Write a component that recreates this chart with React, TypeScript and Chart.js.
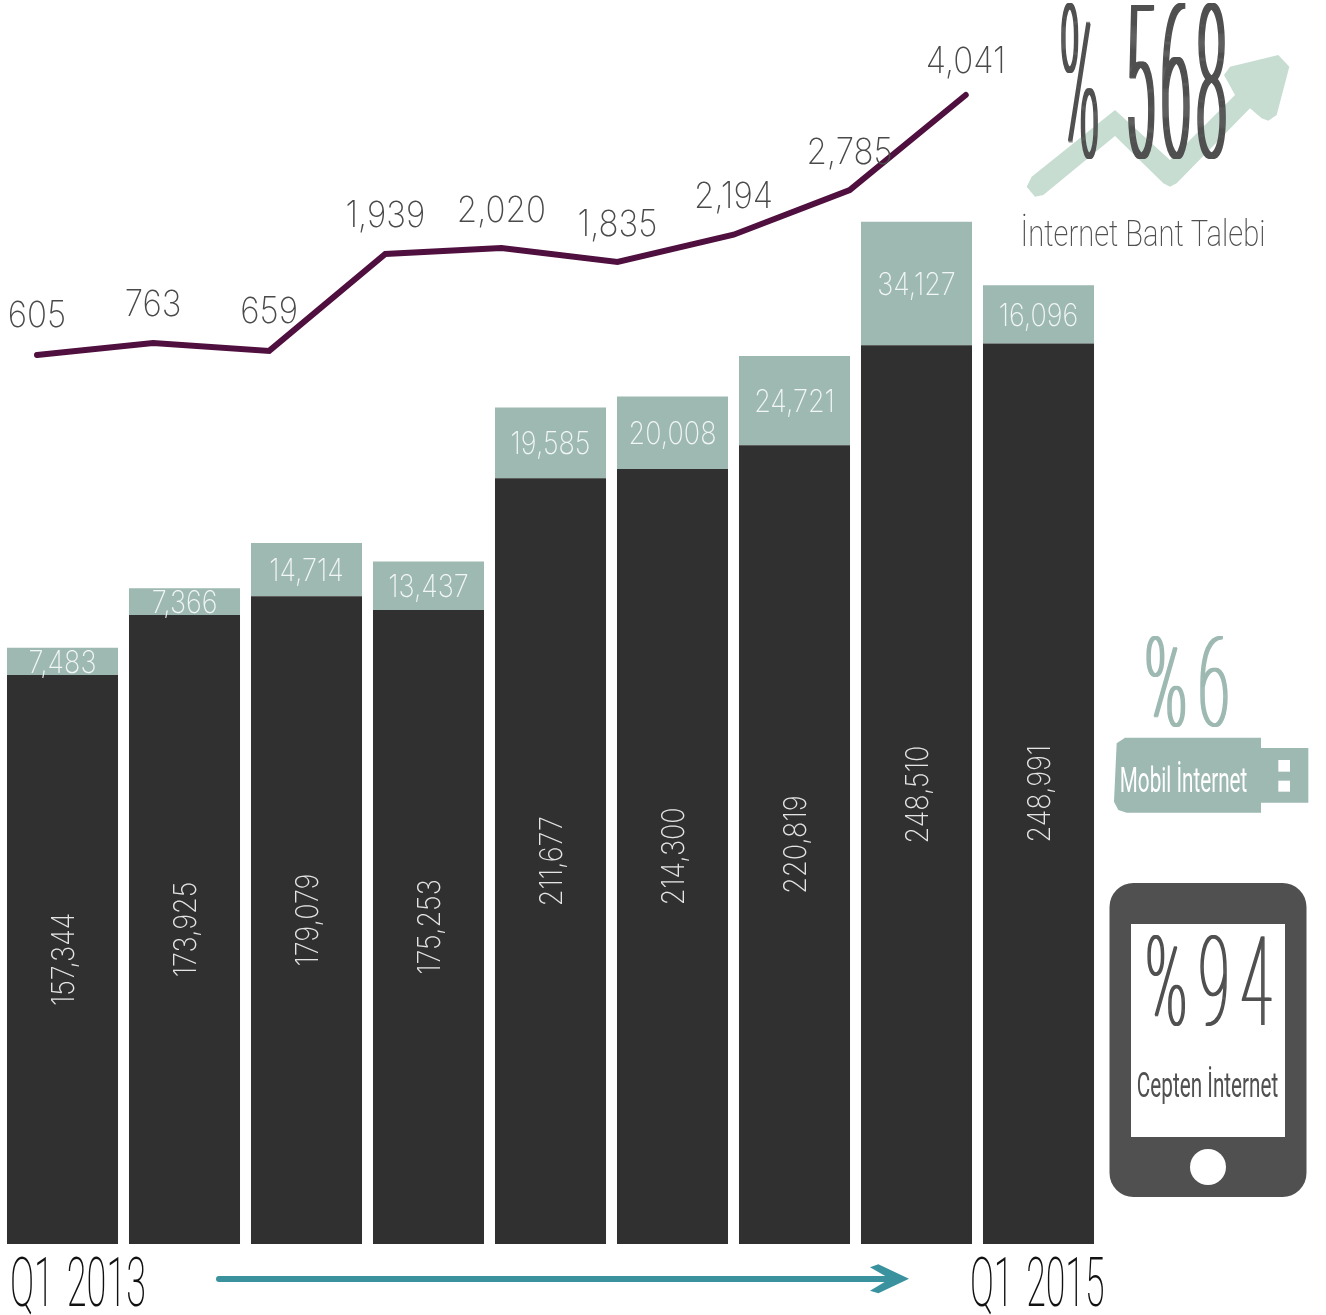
import React, { useEffect, useRef } from "react";
import { Chart, registerables } from "chart.js";

Chart.register(...registerables);

const quarters = ["Q1 2013", "Q2 2013", "Q3 2013", "Q4 2013", "Q1 2014", "Q2 2014", "Q3 2014", "Q4 2014", "Q1 2015"];
const mobileInternet = [157344, 173925, 179079, 175253, 211677, 214300, 220819, 248510, 248991];
const usbInternet = [7483, 7366, 14714, 13437, 19585, 20008, 24721, 34127, 16096];
const bandwidthDemand = [605, 763, 659, 1939, 2020, 1835, 2194, 2785, 4041];
const bandwidthLabelLift = [28, 27, 28, 27, 26, 26, 27, 26, 22];

const DARK = "#303030";
const TEAL = "#9db9b2";
const PLUM = "#50103f";
const GREY = "#505050";
const MINT = "#c7ddd1";
const ARROW = "#3a929f";

const fmt = (v: number) => v.toLocaleString("en-US");

function fitText(
  ctx: CanvasRenderingContext2D,
  text: string,
  x0: number,
  x1: number,
  baseline: number,
  capH: number,
  weight: number,
  color: string,
  smear = 0,
  wordSpacing = 0,
  letterSpacing = 0,
  family = "Roboto"
) {
  ctx.save();
  const size = capH / 0.711;
  ctx.font = `${weight} ${size}px ${family}`;
  (ctx as any).wordSpacing = `${wordSpacing}px`;
  (ctx as any).letterSpacing = `${letterSpacing}px`;
  ctx.textAlign = "left";
  ctx.textBaseline = "alphabetic";
  ctx.fillStyle = color;
  const m = ctx.measureText(text);
  const ink = m.actualBoundingBoxRight + m.actualBoundingBoxLeft;
  const sx = (x1 - x0 - smear) / ink;
  const passes = smear > 0 ? Math.ceil(smear) + 1 : 1;
  for (let i = 0; i < passes; i++) {
    ctx.save();
    const dx = passes > 1 ? (smear * i) / (passes - 1) : 0;
    ctx.translate(x0 + dx + m.actualBoundingBoxLeft * sx, baseline);
    ctx.scale(sx, 1);
    ctx.fillText(text, 0, 0);
    ctx.restore();
  }
  ctx.restore();
}

function poly(ctx: CanvasRenderingContext2D, pts: number[][], ox: number, oy: number, k: number, color: string) {
  ctx.fillStyle = color;
  ctx.beginPath();
  pts.forEach(([x, y], i) => {
    const px = ox + x / k;
    const py = oy + y / k;
    if (i === 0) ctx.moveTo(px, py);
    else ctx.lineTo(px, py);
  });
  ctx.closePath();
  ctx.fill();
}

const decorPlugin = {
  id: "decor",
  afterDatasetsDraw(chart: any) {
    const ctx: CanvasRenderingContext2D = chart.ctx;
    ctx.save();
    const LABEL_FONT = "Inter";
    const labelSize = 31;
    const labelSx = 0.87;
    const yS = chart.scales.y;
    const m0 = chart.getDatasetMeta(0);
    const m1 = chart.getDatasetMeta(1);
    mobileInternet.forEach((v, i) => {
      const x = m0.data[i].x;
      const yc = (yS.getPixelForValue(0) + yS.getPixelForValue(v)) / 2;
      ctx.save();
      ctx.translate(x + 2.5, yc);
      ctx.rotate(-Math.PI / 2);
      ctx.scale(labelSx, 1);
      ctx.font = `200 ${labelSize}px ${LABEL_FONT}`;
      ctx.textAlign = "center";
      ctx.textBaseline = "middle";
      ctx.fillStyle = "#e4e4e4";
      ctx.fillText(fmt(v), 0, 0);
      ctx.restore();
    });
    usbInternet.forEach((v, i) => {
      const x = m1.data[i].x;
      const yc = (yS.getPixelForValue(mobileInternet[i]) + yS.getPixelForValue(mobileInternet[i] + v)) / 2;
      ctx.save();
      ctx.translate(x, yc + 2);
      ctx.scale(labelSx, 1);
      ctx.font = `200 ${labelSize}px ${LABEL_FONT}`;
      ctx.textAlign = "center";
      ctx.textBaseline = "middle";
      ctx.fillStyle = "#f2f6f5";
      ctx.fillText(fmt(v), 0, 0);
      ctx.restore();
    });
    const m2 = chart.getDatasetMeta(2);
    bandwidthDemand.forEach((v, i) => {
      const p = m2.data[i];
      ctx.save();
      ctx.translate(p.x, p.y - bandwidthLabelLift[i]);
      ctx.scale(0.92, 1);
      ctx.font = `200 36px ${LABEL_FONT}`;
      ctx.textAlign = "center";
      ctx.textBaseline = "alphabetic";
      ctx.fillStyle = "#4a4a4a";
      ctx.fillText(v < 1000 ? String(v) : fmt(v), 0, 0);
      ctx.restore();
    });

    poly(ctx, [[95,530],[345,330],[510,480],[705,285],[672,225],[690,200],[835,165],[868,200],[830,345],[805,362],[785,355],[750,325],[530,550],[510,560],[490,550],[345,408],[130,585],[105,590],[80,560]], 1000, 0, 3, MINT);
    fitText(ctx, "%", 1061, 1098, 157, 152, 100, GREY, 3);
    fitText(ctx, "568", 1128, 1226, 157, 152, 100, GREY, 5, 0, 30);
    fitText(ctx, "İnternet Bant Talebi", 1023, 1264, 246, 26, 200, GREY);

    fitText(ctx, "%6", 1146, 1228, 726, 88, 100, TEAL, 3, 0, 25);
    poly(ctx, [[105,353],[513,353],[513,384],[655,384],[655,548],[513,548],[513,578],[110,578],[85,570],[72,545],[80,370]], 1090, 620, 3, TEAL);
    poly(ctx, [[565,420],[600,420],[600,455],[565,455]], 1090, 620, 3, "#ffffff");
    poly(ctx, [[565,482],[600,482],[600,515],[565,515]], 1090, 620, 3, "#ffffff");
    fitText(ctx, "Mobil İnternet", 1121, 1247, 792, 25, 400, "#ffffff");

    ctx.fillStyle = GREY;
    ctx.beginPath();
    ctx.roundRect(1109.5, 883, 197, 314, 24);
    ctx.fill();
    ctx.fillStyle = "#ffffff";
    ctx.fillRect(1131, 924, 154, 213);
    ctx.beginPath();
    ctx.arc(1208, 1167, 18, 0, Math.PI * 2);
    ctx.fill();
    fitText(ctx, "%94", 1147, 1272, 1025, 88, 100, GREY, 2, 0, 25);
    fitText(ctx, "Cepten İnternet", 1138, 1278, 1097, 25, 400, GREY);

    fitText(ctx, "Q1 2013", 12, 144, 1306, 49, 200, "#111111", 0, 8);
    fitText(ctx, "Q1 2015", 972, 1103, 1306, 49, 200, "#111111", 0, 8);
    ctx.strokeStyle = ARROW;
    ctx.lineWidth = 6;
    ctx.lineCap = "round";
    ctx.beginPath();
    ctx.moveTo(219, 1279);
    ctx.lineTo(895, 1279);
    ctx.stroke();
    poly(ctx, [[90,112],[115,103],[207,146],[115,190],[90,182],[150,146]], 840, 1230, 3, ARROW);
    ctx.restore();
  },
};

export default function App() {
  const ref = useRef<HTMLCanvasElement>(null);
  useEffect(() => {
    const chart = new Chart(ref.current!, {
      type: "bar",
      data: {
        labels: quarters,
        datasets: [
          { type: "bar", label: "Cepten İnternet", data: mobileInternet, backgroundColor: DARK, grouped: false, xAxisID: "x", yAxisID: "y", barPercentage: 0.91, categoryPercentage: 1, order: 2 },
          { type: "bar", label: "Mobil İnternet", data: usbInternet, backgroundColor: TEAL, grouped: false, xAxisID: "x", yAxisID: "y", barPercentage: 0.91, categoryPercentage: 1, order: 2 },
          { type: "line", label: "İnternet Bant Talebi", data: bandwidthDemand.map((v, i) => ({ x: i, y: v })), borderColor: PLUM, borderWidth: 6, pointRadius: 0, tension: 0, borderCapStyle: "round", borderJoinStyle: "miter", xAxisID: "x2", yAxisID: "y2", order: 1 },
        ],
      } as any,
      options: {
        animation: false,
        responsive: false,
        layout: { padding: { left: 1.5, right: 226.5, top: 0, bottom: 71 } },
        plugins: { legend: { display: false }, tooltip: { enabled: false }, title: { display: false } },
        scales: {
          x: { type: "category", display: false, stacked: true, offset: true },
          y: { display: false, stacked: true, min: 0, max: 343932 },
          x2: { type: "linear", display: false, offset: false, min: -0.3058, max: 9.152 },
          y2: { type: "linear", display: false, min: -11143, max: 5296 },
        },
      } as any,
      plugins: [decorPlugin],
    });
    return () => chart.destroy();
  }, []);
  return (
    <div style={{ position: "absolute", left: 0, top: 0, width: 1326, height: 1315, background: "#fff" }}>
      <canvas ref={ref} width={1326} height={1315} style={{ display: "block" }} />
    </div>
  );
}
